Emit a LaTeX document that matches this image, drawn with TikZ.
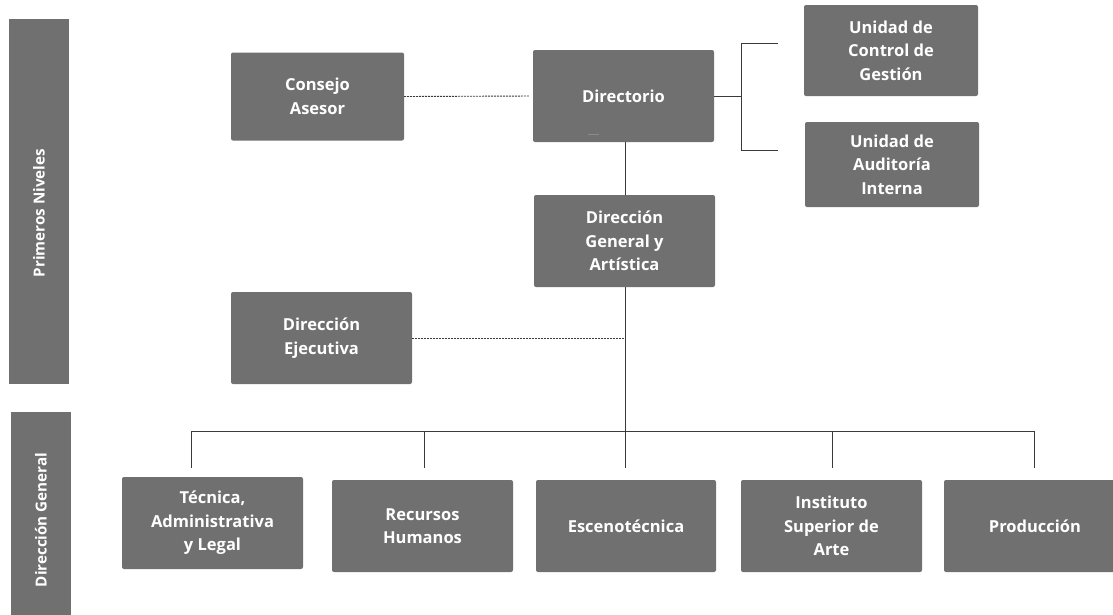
\documentclass[tikz,border=0pt]{standalone}
\usepackage{fontspec}
\setmainfont{Open Sans}
\begin{document}
\begin{tikzpicture}[x=1pt,y=-1pt,
  box/.style={draw=none, fill=boxgray, rounded corners=2pt, text=white,
    font=\bfseries\fontsize{16.5}{23.5}\selectfont, align=center, inner sep=0pt},
  side/.style={draw=none, fill=boxgray, inner sep=0pt},
  sidetext/.style={text=white, rotate=90, font=\bfseries\fontsize{15.2}{18}\selectfont, inner sep=0pt},
  link/.style={draw=linegray, line width=0.9pt},
  dotlink/.style={draw=linegray, line width=0.9pt, dash pattern=on 2pt off 1pt}]
\definecolor{boxgray}{HTML}{707070}
\definecolor{linegray}{HTML}{3A3A3A}
\useasboundingbox (0,0) rectangle (1113,614);
% side bars
\node[side, minimum width=60, minimum height=365] (pn) at (39,201.5) {};
\node[sidetext] (pnt) at (39,213) {Primeros Niveles};
\node[side, minimum width=60, minimum height=210] (dgs) at (41,517) {};
\node[sidetext] (dgst) at (41,520) {Dirección General};
% top level
\node[box, minimum width=173, minimum height=88] (ca) at (317.5,96.5) {Consejo\\Asesor};
\node[box, minimum width=181, minimum height=92] (dir) at (623.5,96) {Directorio};
\node[box, minimum width=174, minimum height=91] (ucg) at (891,50.5) {Unidad de\\Control de\\Gestión};
\node[box, minimum width=174, minimum height=85] (uai) at (892,164.5) {Unidad de\\Auditoría\\Interna};
\node[box, minimum width=181, minimum height=92] (dga) at (624.5,241) {Dirección\\General y\\Artística};
\node[box, minimum width=181, minimum height=92] (de) at (321.5,338) {Dirección\\Ejecutiva};
% children
\node[box, minimum width=181, minimum height=92] (tec) at (212.5,523) {Técnica,\\Administrativa\\y Legal};
\node[box, minimum width=181, minimum height=92] (rh) at (422.5,526) {Recursos\\Humanos};
\node[box, minimum width=180, minimum height=92] (esc) at (626,526) {Escenotécnica};
\node[box, minimum width=181, minimum height=92] (isa) at (831.5,526) {Instituto\\Superior de\\Arte};
\node[box, minimum width=182, minimum height=92] (pro) at (1035,526) {Producción};
% tiny mark inside Directorio
\draw[line width=0.5pt, black!45] (588,134) -- (599,134);
% coordinates
\coordinate (br) at (741,96);
\coordinate (ucgIn) at (778,43);
\coordinate (uaiIn) at (778,150);
\coordinate (busL) at (191,431);
\coordinate (busR) at (1034,431);
\coordinate (tecIn) at (191,468);
\coordinate (rhIn) at (424,468);
\coordinate (escIn) at (625,468);
\coordinate (isaIn) at (832,468);
\coordinate (proIn) at (1034,468);
\coordinate (deJ) at (625,338);
% connectors
\draw[dotlink, shorten >=4pt] (ca.east) -- (dir.west);
\draw[link] (dir.east) -- (br);
\draw[link] (ucgIn) -- (ucgIn -| br) -- (uaiIn -| br) -- (uaiIn);
\draw[link] (625,142) -- (625,195);
\draw[link] (625,287) -- (escIn);
\draw[dotlink] (de.east) -- (deJ);
\draw[link] (tecIn) -- (busL) -- (busR) -- (proIn);
\draw[link] (rhIn) -- (rhIn |- busL);
\draw[link] (isaIn) -- (isaIn |- busL);
\end{tikzpicture}
\end{document}
